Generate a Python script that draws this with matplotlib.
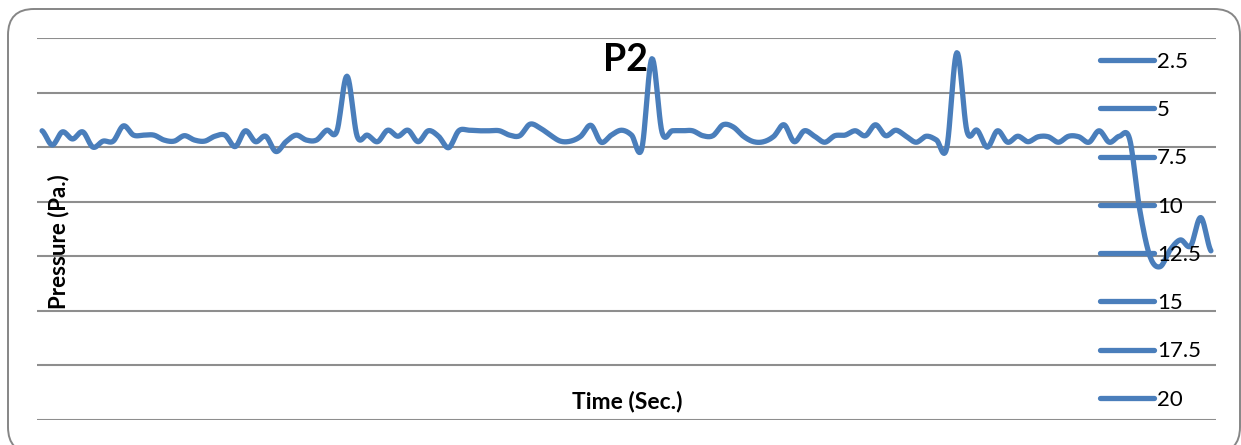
import matplotlib
matplotlib.use("Agg")
import matplotlib.pyplot as plt
import numpy as np
from matplotlib.lines import Line2D
from matplotlib.patches import FancyBboxPatch
from matplotlib.transforms import IdentityTransform

# pressure readings for P2 (one sample per time step)
pressure = [
    5.30, 5.04, 5.28, 5.15, 5.28, 5.00, 5.11, 5.11, 5.39, 5.22,
    5.22, 5.22, 5.13, 5.11, 5.21, 5.13, 5.11, 5.20, 5.22, 5.01,
    5.30, 5.10, 5.20, 4.92, 5.10, 5.22, 5.13, 5.13, 5.31, 5.29,
    6.30, 5.20, 5.22, 5.10, 5.31, 5.20, 5.31, 5.10, 5.30, 5.20,
    4.99, 5.30, 5.31, 5.30, 5.30, 5.30, 5.22, 5.21, 5.42, 5.35,
    5.22, 5.11, 5.11, 5.20, 5.40, 5.09, 5.22, 5.31, 5.22, 4.97,
    6.62, 5.27, 5.30, 5.30, 5.30, 5.21, 5.21, 5.41, 5.37, 5.20,
    5.10, 5.10, 5.20, 5.41, 5.10, 5.30, 5.20, 5.09, 5.21, 5.22,
    5.30, 5.21, 5.41, 5.21, 5.31, 5.20, 5.09, 5.20, 5.13, 4.98,
    6.73, 5.29, 5.31, 5.00, 5.30, 5.09, 5.20, 5.10, 5.19, 5.19,
    5.09, 5.20, 5.19, 5.09, 5.30, 5.09, 5.20, 5.15, 3.85, 3.00,
    2.81, 3.12, 3.30, 3.19, 3.71, 3.10,
]
time = np.arange(1, len(pressure) + 1)

# legend entries as shown in the original sheet
legend_labels = ["2.5", "5", "7.5", "10", "12.5", "15", "17.5", "20"]

blue = "#4a7ebb"
grid_grey = "#8e8e8e"


def smooth(x, y, n=12):
    # catmull-rom style smoothing like the spreadsheet "smoothed line" option
    x = np.asarray(x, float)
    y = np.asarray(y, float)
    yp = np.concatenate([[y[0]], y, [y[-1]]])
    xs, ys = [], []
    for i in range(len(y) - 1):
        p0, p1, p2, p3 = yp[i], yp[i + 1], yp[i + 2], yp[i + 3]
        m1 = (p2 - p0) / 2
        m2 = (p3 - p1) / 2
        t = np.linspace(0, 1, n, endpoint=False)
        h00 = 2 * t**3 - 3 * t**2 + 1
        h10 = t**3 - 2 * t**2 + t
        h01 = -2 * t**3 + 3 * t**2
        h11 = t**3 - t**2
        ys.append(h00 * p1 + h10 * m1 + h01 * p2 + h11 * m2)
        xs.append(x[i] + t * (x[i + 1] - x[i]))
    xs.append([x[-1]])
    ys.append([y[-1]])
    return np.concatenate(xs), np.concatenate(ys)


plt.rcParams["font.family"] = ["Lato", "DejaVu Sans"]

W, H = 1241, 445
fig = plt.figure(figsize=(W / 100, H / 100), dpi=100)

# rounded chart border
border = FancyBboxPatch((8, -8), 1232, H - 9 + 8,
                        boxstyle="round,pad=0,rounding_size=26",
                        transform=IdentityTransform(), fill=False,
                        edgecolor="#868686", linewidth=1.4)
fig.patches.append(border)

ax = fig.add_axes([37 / W, 1 - 420 / H, (1216 - 37) / W, (420 - 38) / H])
ax.set_xlim(0.5, len(pressure) + 0.5)
ax.set_ylim(0, 7)
ax.set_yticks(np.arange(0, 8, 1))
ax.set_xticks([])
ax.tick_params(left=False, labelleft=False)
ax.yaxis.grid(True, color=grid_grey, linewidth=1.5)
ax.set_axisbelow(True)
for s in ax.spines.values():
    s.set_visible(False)

sx, sy = smooth(time, pressure)
ax.plot(sx, sy, color=blue, linewidth=3.8, solid_capstyle="round",
        solid_joinstyle="round", zorder=3)

fig.text(626 / W, 1 - 60 / H, "P2", ha="center", va="center",
         fontsize=27, fontweight="bold")
fig.text(59 / W, 1 - 242 / H, "Pressure (Pa.)", ha="center", va="center",
         rotation=90, fontsize=16, fontweight="bold")
fig.text(627 / W, 1 - 402 / H, "Time (Sec.)", ha="center", va="center",
         fontsize=16.5, fontweight="bold")

handles = [Line2D([], [], color=blue, linewidth=3.8, solid_capstyle="round")
           for _ in legend_labels]
leg = fig.legend(handles, legend_labels, loc="upper left",
                 bbox_to_anchor=(1100 / W, 1 - 52 / H), frameon=False,
                 fontsize=16, handlelength=2.45, handletextpad=0.12,
                 labelspacing=1.27, borderpad=0, borderaxespad=0)
leg.set_zorder(5)

fig.savefig("out.png", dpi=100)
